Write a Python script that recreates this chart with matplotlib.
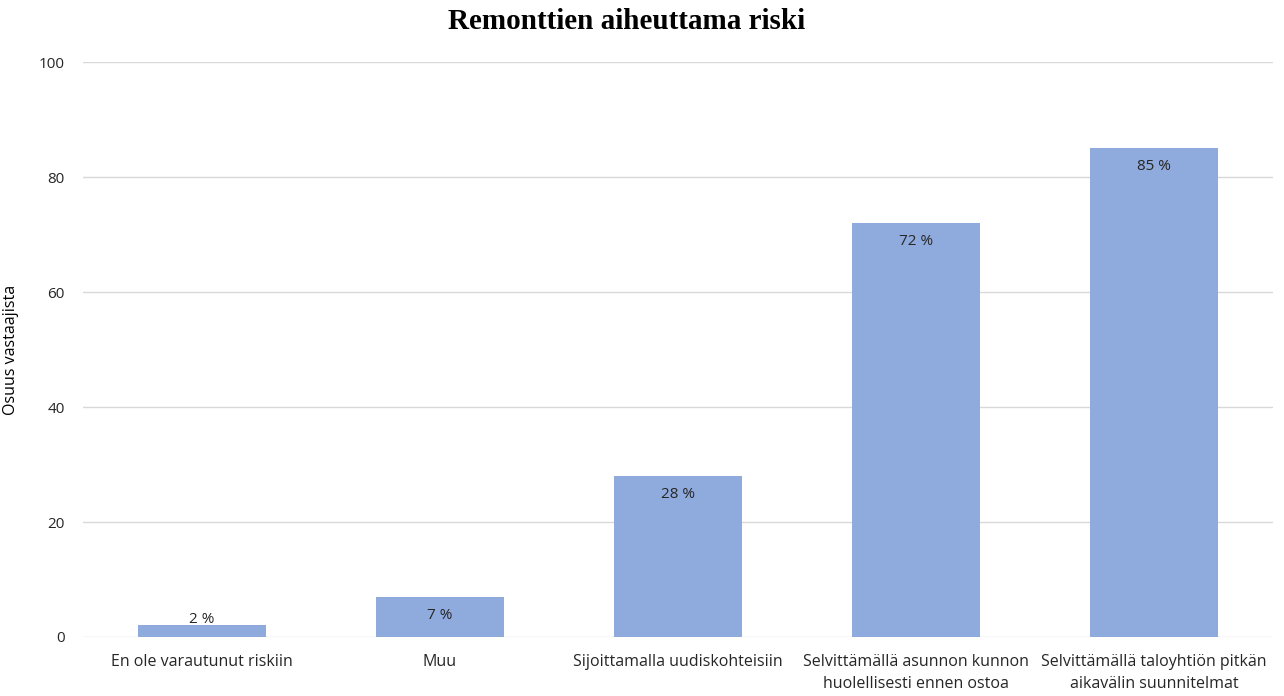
import matplotlib
matplotlib.use('Agg')
import matplotlib.pyplot as plt

categories = [
    "En ole varautunut riskiin",
    "Muu",
    "Sijoittamalla uudiskohteisiin",
    "Selvittämällä asunnon kunnon\nhuolellisesti ennen ostoa",
    "Selvittämällä taloyhtiön pitkän\naikavälin suunnitelmat",
]
values = [2, 7, 28, 72, 85]
yticks = [0, 20, 40, 60, 80, 100]

BAR_COLOR = '#8FAADC'
GRID_COLOR = '#D9D9D9'
TEXT_COLOR = '#262626'

plt.rcParams['font.family'] = ['Open Sans', 'DejaVu Sans']

fig = plt.figure(figsize=(12.84, 6.96), dpi=100)
ax = fig.add_axes([0.0646, 0.0848, 0.9268, 0.826])

x = list(range(len(values)))
ax.bar(x, values, width=0.54, color=BAR_COLOR, zorder=3)

for xi, v in zip(x, values):
    ax.text(xi, max(v - 3.2, 3.0), f"{v} %", ha='center', va='center',
            fontsize=11, color=TEXT_COLOR, zorder=4)

ax.set_xlim(-0.5, len(values) - 0.5)
ax.set_ylim(0, 100)
ax.set_yticks(yticks)
ax.set_xticks(x)
ax.set_xticklabels(categories, fontsize=11.5, color=TEXT_COLOR, linespacing=1.5)
ax.tick_params(axis='y', labelsize=11, labelcolor=TEXT_COLOR, length=0, pad=13)
ax.tick_params(axis='x', length=0, pad=12)
ax.grid(axis='y', color=GRID_COLOR, linewidth=1, zorder=0)
for s in ax.spines.values():
    s.set_visible(False)

ax.set_ylabel("Osuus vastaajista", fontsize=11.5, color='black')
ax.yaxis.set_label_coords(-0.054, 0.5)
fig.suptitle("Remonttien aiheuttama riski", fontsize=21, fontweight='bold',
             family='Liberation Serif', x=0.488, y=0.988)

fig.savefig('out.png', dpi=100)
